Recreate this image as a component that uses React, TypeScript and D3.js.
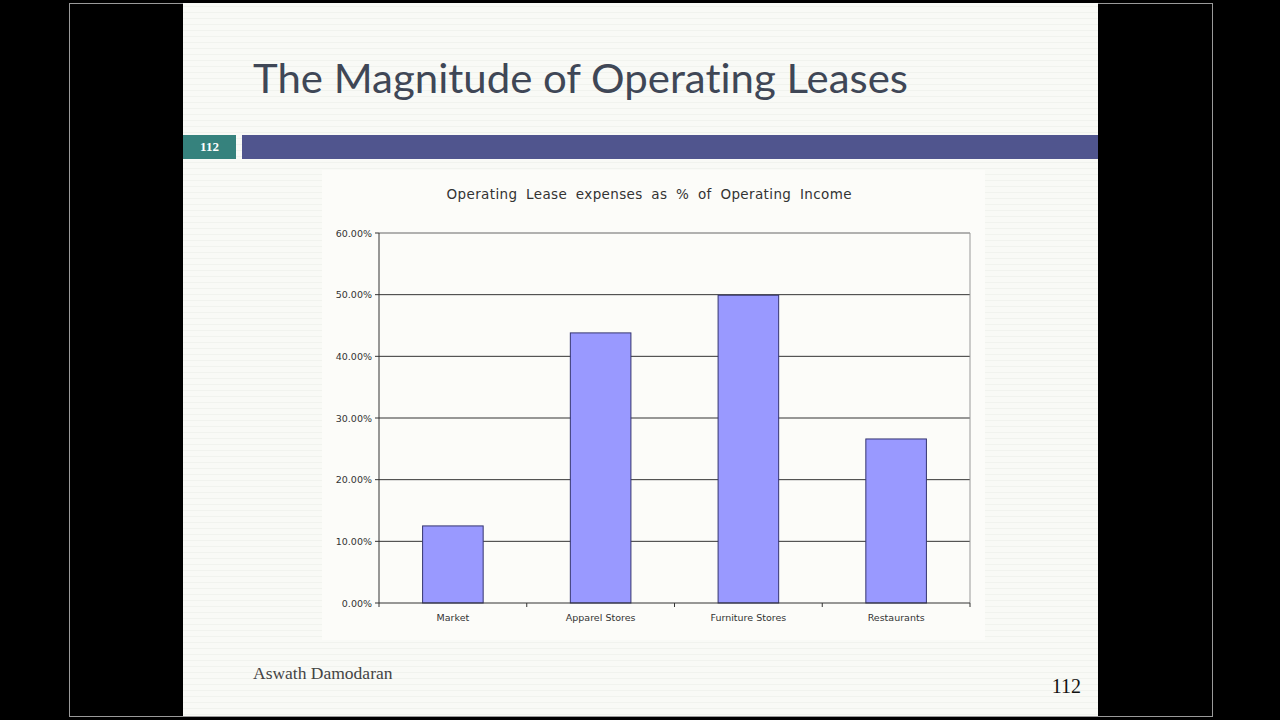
import React from "react";
import * as d3 from "d3";

const categories = ["Market", "Apparel Stores", "Furniture Stores", "Restaurants"];
const leaseShare = [0.125, 0.438, 0.499, 0.266];
const yTicks = [0, 0.1, 0.2, 0.3, 0.4, 0.5, 0.6];

const W = 1280;
const H = 720;
const plot = { left: 379, right: 970, top: 233, bottom: 603 };

export default function App() {
  const x = d3
    .scaleBand<string>()
    .domain(categories)
    .range([plot.left, plot.right])
    .paddingInner(0.59)
    .paddingOuter(0.295);
  const band = d3.scaleBand<string>().domain(categories).range([plot.left, plot.right]);
  const y = d3.scaleLinear().domain([0, 0.6]).range([plot.bottom, plot.top]);
  const fmt = d3.format(".2%");

  const boundaries = categories.map((c) => band(c) as number).concat([plot.right]);

  return (
    <svg
      width={W}
      height={H}
      viewBox={`0 0 ${W} ${H}`}
      style={{ position: "fixed", left: 0, top: 0, display: "block" }}
    >
      <defs>
        <pattern id="stripes" width="8" height="6" patternUnits="userSpaceOnUse">
          <rect width="8" height="6" fill="#f9faf6" />
          <rect y="0" width="8" height="1" fill="#f1f3ee" />
        </pattern>
      </defs>
      <rect width={W} height={H} fill="#000" />
      <rect x={69.5} y={3.5} width={1143} height={713} fill="none" stroke="#9a9a9a" strokeWidth={1} />
      <rect x={183} y={3} width={915} height={713} fill="url(#stripes)" />

      <text
        x={253}
        y={93}
        fontFamily="Lato, 'Open Sans', sans-serif"
        fontSize={41}
        fill="#3f4756"
        textLength={655}
        lengthAdjust="spacingAndGlyphs"
        style={{ fontVariantLigatures: "none" }}
      >
        The Magnitude of Operating Leases
      </text>

      <rect x={183} y={135} width={53} height={24} fill="#36827d" />
      <text
        x={209.5}
        y={151}
        textAnchor="middle"
        fontFamily="'Liberation Serif', serif"
        fontWeight="bold"
        fontSize={13}
        fill="#fff"
      >
        112
      </text>
      <rect x={242} y={135} width={856} height={24} fill="#50558e" />

      <rect x={322} y={170} width={663} height={470} fill="#fcfcf9" />

      <text
        x={649}
        y={199}
        textAnchor="middle"
        fontFamily="'DejaVu Sans', Verdana, sans-serif"
        fontSize={13.5}
        fill="#333"
        wordSpacing={4}
        textLength={405}
        lengthAdjust="spacing"
      >
        Operating Lease expenses as % of Operating Income
      </text>

      {yTicks.map((t) => (
        <g key={t}>
          {t > 0 && (
            <line
              x1={plot.left}
              x2={plot.right}
              y1={y(t)}
              y2={y(t)}
              stroke={t === 0.6 ? "#666" : "#333"}
              strokeWidth={1}
            />
          )}
          <line x1={plot.left - 4} x2={plot.left} y1={y(t)} y2={y(t)} stroke="#333" />
          <text
            x={plot.left - 7}
            y={y(t) + 3.5}
            textAnchor="end"
            fontFamily="'DejaVu Sans', Verdana, sans-serif"
            fontSize={9.5}
            fill="#333"
          >
            {fmt(t)}
          </text>
        </g>
      ))}
      <line x1={plot.right} x2={plot.right} y1={plot.top} y2={plot.bottom} stroke="#999" />

      {categories.map((c, i) => (
        <rect
          key={c}
          x={x(c)}
          y={y(leaseShare[i])}
          width={x.bandwidth()}
          height={plot.bottom - y(leaseShare[i])}
          fill="#9999ff"
          stroke="#353570"
          strokeWidth={1}
        />
      ))}

      <line x1={plot.left} x2={plot.left} y1={plot.top} y2={plot.bottom} stroke="#333" />
      <line x1={plot.left} x2={plot.right} y1={plot.bottom} y2={plot.bottom} stroke="#333" />
      {boundaries.map((b, i) => (
        <line key={i} x1={b} x2={b} y1={plot.bottom} y2={plot.bottom + 4} stroke="#333" />
      ))}
      {categories.map((c) => (
        <text
          key={c}
          x={(band(c) as number) + band.bandwidth() / 2}
          y={621}
          textAnchor="middle"
          fontFamily="'DejaVu Sans', Verdana, sans-serif"
          fontSize={9.5}
          fill="#333"
        >
          {c}
        </text>
      ))}

      <text x={253} y={679} fontFamily="'Liberation Serif', 'Times New Roman', serif" fontSize={17.5} fill="#444">
        Aswath Damodaran
      </text>
      <text
        x={1081}
        y={693}
        textAnchor="end"
        fontFamily="'Liberation Serif', 'Times New Roman', serif"
        fontSize={20}
        fill="#111"
      >
        112
      </text>
    </svg>
  );
}
